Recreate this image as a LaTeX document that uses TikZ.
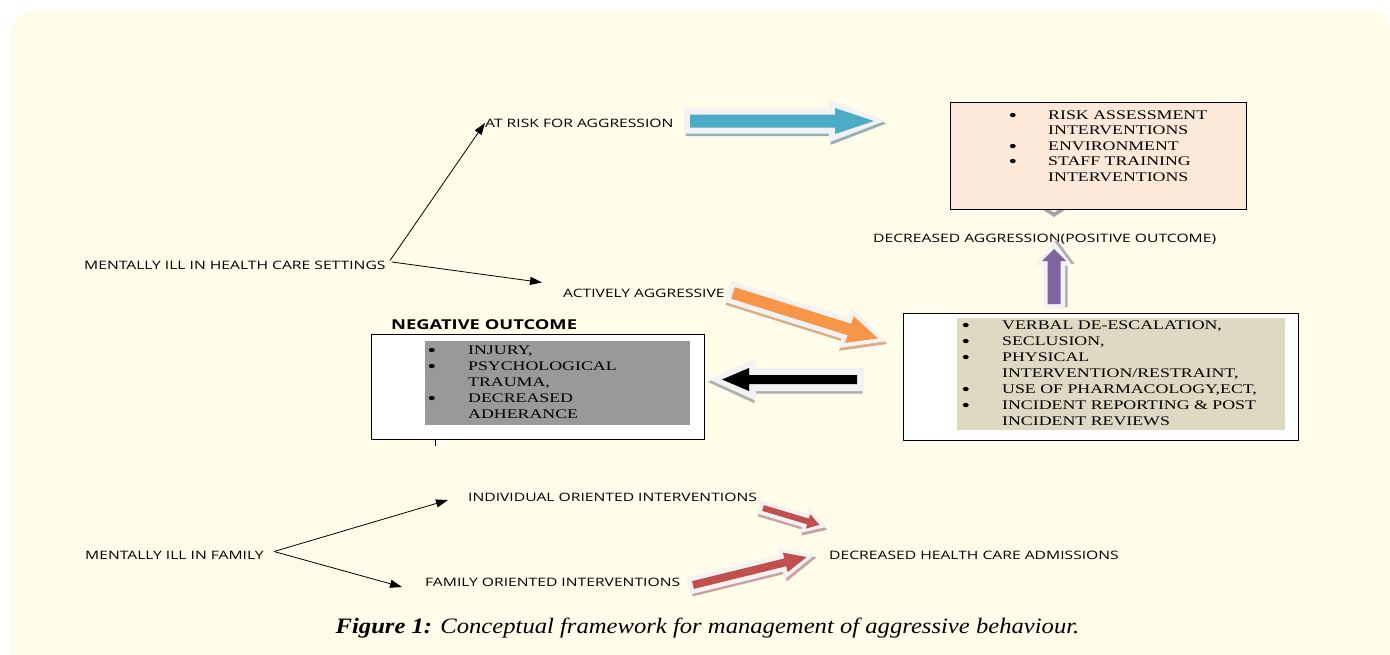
\documentclass[tikz,border=0pt]{standalone}
\usepackage{fontspec}
\setmainfont{Liberation Serif}
\newfontfamily\labfont{Open Sans}
\usepackage{graphicx}
\usetikzlibrary{arrows.meta,calc}
\definecolor{bgc}{HTML}{FFFCEA}
\definecolor{outl}{HTML}{F2F2F2}
\definecolor{peach}{HTML}{FDE9D9}
\definecolor{beige}{HTML}{DDD9C3}
\definecolor{grayfill}{HTML}{999999}
\definecolor{blueA}{HTML}{4BACC6}
\definecolor{blueS}{HTML}{93AFB9}
\definecolor{orangeA}{HTML}{F79646}
\definecolor{orangeS}{HTML}{D9AE86}
\definecolor{purpleA}{HTML}{8064A2}
\definecolor{purpleS}{HTML}{B0B0B0}
\definecolor{blackS}{HTML}{B0B0B0}
\definecolor{redA}{HTML}{C0504D}
\definecolor{redS}{HTML}{C9A39F}
\definecolor{chev}{HTML}{A7A1AE}
\newlength\bw
\newcommand\blt{\makebox[\bw][l]{\hspace*{-0.5pt}\raisebox{-1.6pt}{\fontsize{18}{16}\selectfont •}}}
\newcommand\nob{\hspace*{\bw}}
\newcommand\hs[1]{\scalebox{1.35}[1]{#1}}
\tikzset{
  lab/.style={font=\labfont\fontsize{11.6}{13}\selectfont, inner sep=0pt, anchor=base west},
  boldlab/.style={font=\labfont\bfseries\fontsize{13.6}{15}\selectfont, inner sep=0pt, anchor=base west},
  listtxt/.style={inner sep=0pt, anchor=base west},
  boxline/.style={draw=black, line width=1.2pt},
  conn/.style={draw=black, line width=0.8pt, -{Triangle[length=12pt,width=8pt]}},
  pics/barrow/.style n args={7}{code={
    % #1 length, #2 shaft half width, #3 head half width, #4 head length, #5 outline, #6 colour, #7 shadow
    \foreach \c/\dx/\dy in {#7/1.5/2.5, outl/0/0}{
      \fill[\c, shift={(\dx,\dy)}] ({-#5},{-#2-#5}) -- ({#1-#4-#5},{-#2-#5}) -- ({#1-#4-#5},{-#3-1.4*#5})
        -- ({#1+1.8*#5},0) -- ({#1-#4-#5},{#3+1.4*#5}) -- ({#1-#4-#5},{#2+#5}) -- ({-#5},{#2+#5}) -- cycle;
    }
    \fill[#6] (0,{-#2}) -- ({#1-#4},{-#2}) -- ({#1-#4},{-#3}) -- (#1,0) -- ({#1-#4},#3) -- ({#1-#4},#2) -- (0,#2) -- cycle;
  }}
}
\begin{document}
\begin{tikzpicture}[x=1pt,y=-1pt]
\useasboundingbox (0,0) rectangle (1390,654);
\fill[white] (0,0) rectangle (1390,654);
\fill[bgc, rounded corners=25pt] (10,10) rectangle (1392,720);

% labels
\node[lab] (hc) at (84,269) {\hs{MENTALLY ILL IN HEALTH CARE SETTINGS}};
\node[lab] (risk) at (485,127) {\hs{AT RISK FOR AGGRESSION}};
\node[lab] (act) at (563,297) {\hs{ACTIVELY AGGRESSIVE}};
\node[lab] (da) at (873,242) {\hs{DECREASED AGGRESSION(POSITIVE OUTCOME)}};
\node[boldlab] (neg) at (391,329) {\hs{NEGATIVE OUTCOME}};
\node[lab] (ind) at (468,501) {\hs{INDIVIDUAL ORIENTED INTERVENTIONS}};
\node[lab] (fam) at (85,559) {\hs{MENTALLY ILL IN FAMILY}};
\node[lab] (foi) at (425,586) {\hs{FAMILY ORIENTED INTERVENTIONS}};
\node[lab] (dhca) at (829,559) {\hs{DECREASED HEALTH CARE ADMISSIONS}};

% thin connectors
\coordinate (hcA) at (390,260.5);
\coordinate (hcB) at (392,262);
\coordinate (actT) at (542,282.5);
\coordinate (famA) at (274,551.5);
\coordinate (indT) at (448,500);
\coordinate (foiT) at (402,587);
\draw[conn] (hcA) -- (risk.west);
\draw[conn] (hcB) -- (actT);
\draw[conn] (famA) -- (indT);
\draw[conn] (famA) -- (foiT);

% block arrows
\pic (blue) at (690,121) {barrow={184}{6.5}{13}{39}{6}{blueA}{blueS}};
\pic[rotate=-17.4] (orange) at (733,293) {barrow={152}{6}{14}{30}{5}{orangeA}{orangeS}};
\pic[xscale=-1] (black) at (857,379.5) {barrow={135}{4.5}{11.5}{27}{7}{black}{blackS}};
\pic[rotate=90] (purple) at (1054,304) {barrow={55}{6.5}{12}{12}{4.5}{purpleA}{purpleS}};
\pic[rotate=-16.6] (red1) at (763,508) {barrow={59}{3}{7.5}{12}{4}{redA}{redS}};
\pic[rotate=13.8] (red2) at (693,585) {barrow={117}{4}{10}{22}{4.5}{redA}{redS}};

% small chevron under top box (tip of a hidden arrow)
\fill[chev] (1040,208) -- (1054,217) -- (1068,208) -- (1061,208) -- (1054,212.5) -- (1047,208) -- cycle;

% top box
\node[boxline, fill=peach, minimum width=296pt, minimum height=107pt, anchor=north west, inner sep=0pt] (topbox) at (950,102) {};
\setlength\bw{28.9pt}
\node[listtxt, font=\fontsize{13.2}{15.5}\selectfont] (toplist) at (1009,119.4) {\hs{\begin{tabular}[t]{@{}l@{}}\blt RISK ASSESSMENT\\\nob INTERVENTIONS\\\blt ENVIRONMENT\\\blt STAFF TRAINING\\\nob INTERVENTIONS\end{tabular}}};

% right box
\node[boxline, fill=white, minimum width=395pt, minimum height=127pt, anchor=north west, inner sep=0pt] (rbox) at (903,313) {};
\fill[beige] (957,318) rectangle (1285,430);
\setlength\bw{29.6pt}
\node[listtxt, font=\fontsize{13.2}{16}\selectfont] (rlist) at (962,329.4) {\hs{\begin{tabular}[t]{@{}l@{}}\blt VERBAL DE-ESCALATION,\\\blt SECLUSION,\\\blt PHYSICAL\\\nob INTERVENTION/RESTRAINT,\\\blt USE OF PHARMACOLOGY,ECT,\\\blt INCIDENT REPORTING \& POST\\\nob INCIDENT REVIEWS\end{tabular}}};

% left box
\node[boxline, fill=white, minimum width=333pt, minimum height=105pt, anchor=north west, inner sep=0pt] (lbox) at (371,334) {};
\fill[grayfill] (425,341) rectangle (690,425);
\node[listtxt, font=\fontsize{13.2}{16}\selectfont] (llist) at (428,354.4) {\hs{\begin{tabular}[t]{@{}l@{}}\blt INJURY,\\\blt PSYCHOLOGICAL\\\nob TRAUMA,\\\blt DECREASED\\\nob ADHERANCE\end{tabular}}};
\coordinate (tickB) at (435,446);
\draw[line width=0.9pt] (lbox.south west -| tickB) -- (tickB);

% caption
\node[inner sep=0pt, anchor=base, font=\fontsize{22}{24}\selectfont\itshape] (cap) at (707.5,633) {\scalebox{1.12}[1]{\textbf{Figure 1:} Conceptual framework for management of aggressive behaviour.}};
\end{tikzpicture}
\end{document}
